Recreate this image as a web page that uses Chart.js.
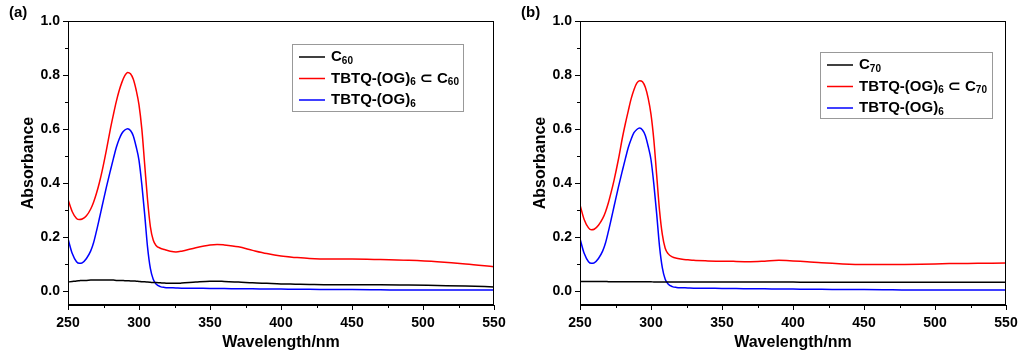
<!DOCTYPE html>
<html>
<head>
<meta charset="utf-8">
<script src="https://cdn.jsdelivr.net/npm/chart.js@4.4.1/dist/chart.umd.min.js"></script>
<style>
  html, body { margin: 0; padding: 0; background: #fff; }
  .panel { position: absolute; top: 0; width: 512px; height: 360px; }
  #wrapA { left: 0; }
  #wrapB { left: 512px; }
</style>
</head>
<body>
<div class="panel" id="wrapA"><canvas id="chartA"></canvas></div>
<div class="panel" id="wrapB"><canvas id="chartB"></canvas></div>
<script>
// wavelengths (nm) shared by every curve
const wavelength = [250, 253, 256, 258, 260, 263, 266, 268, 270, 272, 274, 277, 280, 282, 284, 286, 288, 290, 292, 294,
    296, 298, 300, 302, 304, 306, 308, 310, 312, 315, 318, 322, 326, 330, 340, 350, 355, 360, 370, 380,
    390, 400, 410, 420, 435, 450, 470, 490, 510, 530, 550];

// panel (a)
const c60 = [0.035, 0.037, 0.039, 0.040, 0.041, 0.041, 0.042, 0.042, 0.042, 0.042, 0.042, 0.042, 0.042, 0.042, 0.041, 0.041, 0.041, 0.040, 0.040, 0.039,
    0.039, 0.038, 0.037, 0.036, 0.036, 0.035, 0.034, 0.033, 0.033, 0.032, 0.031, 0.030, 0.030, 0.031, 0.035, 0.038, 0.038, 0.037, 0.035, 0.032,
    0.030, 0.028, 0.027, 0.026, 0.025, 0.025, 0.025, 0.024, 0.022, 0.020, 0.017];
const tbtqC60 = [0.340, 0.295, 0.270, 0.266, 0.268, 0.280, 0.305, 0.330, 0.362, 0.400, 0.445, 0.522, 0.605, 0.655, 0.702, 0.742, 0.774, 0.798, 0.810, 0.805,
    0.785, 0.745, 0.690, 0.600, 0.470, 0.340, 0.240, 0.190, 0.170, 0.160, 0.155, 0.149, 0.146, 0.149, 0.162, 0.172, 0.174, 0.172, 0.165, 0.152,
    0.140, 0.131, 0.126, 0.122, 0.120, 0.120, 0.118, 0.115, 0.110, 0.102, 0.091];
const tbtqA = [0.195, 0.140, 0.110, 0.104, 0.106, 0.122, 0.150, 0.180, 0.222, 0.268, 0.315, 0.385, 0.450, 0.492, 0.532, 0.563, 0.585, 0.597, 0.602, 0.595,
    0.575, 0.535, 0.485, 0.395, 0.285, 0.165, 0.085, 0.045, 0.028, 0.018, 0.015, 0.014, 0.013, 0.012, 0.012, 0.011, 0.011, 0.011, 0.010, 0.010,
    0.009, 0.009, 0.008, 0.008, 0.007, 0.007, 0.006, 0.005, 0.005, 0.005, 0.005];

// panel (b)
const c70 = [0.037, 0.037, 0.037, 0.037, 0.037, 0.037, 0.037, 0.037, 0.036, 0.036, 0.036, 0.036, 0.036, 0.036, 0.036, 0.036, 0.036, 0.036, 0.036, 0.036,
    0.036, 0.036, 0.036, 0.035, 0.035, 0.035, 0.035, 0.035, 0.035, 0.035, 0.035, 0.035, 0.035, 0.035, 0.035, 0.035, 0.035, 0.035, 0.035, 0.035,
    0.035, 0.035, 0.034, 0.034, 0.034, 0.034, 0.034, 0.034, 0.034, 0.034, 0.034];
const tbtqC70 = [0.320, 0.265, 0.235, 0.228, 0.230, 0.245, 0.270, 0.295, 0.328, 0.368, 0.412, 0.487, 0.572, 0.622, 0.668, 0.712, 0.746, 0.770, 0.779, 0.775,
    0.755, 0.715, 0.655, 0.560, 0.430, 0.300, 0.210, 0.160, 0.140, 0.128, 0.123, 0.119, 0.117, 0.115, 0.113, 0.112, 0.112, 0.111, 0.110, 0.112,
    0.115, 0.113, 0.110, 0.106, 0.102, 0.100, 0.100, 0.101, 0.103, 0.104, 0.105];
const tbtqB = [0.195, 0.140, 0.110, 0.104, 0.106, 0.122, 0.150, 0.180, 0.222, 0.268, 0.315, 0.385, 0.450, 0.492, 0.532, 0.563, 0.587, 0.599, 0.604, 0.597,
    0.577, 0.537, 0.487, 0.397, 0.287, 0.167, 0.087, 0.045, 0.028, 0.018, 0.015, 0.014, 0.013, 0.012, 0.012, 0.011, 0.011, 0.011, 0.010, 0.010,
    0.009, 0.009, 0.008, 0.008, 0.007, 0.007, 0.006, 0.005, 0.005, 0.005, 0.005];

// tick labels
const xTicks = [250, 300, 350, 400, 450, 500, 550];
const xMinor = [275, 325, 375, 425, 475, 525];
const yTicks = [0.0, 0.2, 0.4, 0.6, 0.8, 1.0];
const yMinor = [0.1, 0.3, 0.5, 0.7, 0.9];

// legend texts, [text, isSubscript]
const legendA = [
    [['C', 0], ['60', 1]],
    [['TBTQ-(OG)', 0], ['6', 1], [' \u2282 C', 0], ['60', 1]],
    [['TBTQ-(OG)', 0], ['6', 1]]
];
const legendB = [
    [['C', 0], ['70', 1]],
    [['TBTQ-(OG)', 0], ['6', 1], [' \u2282 C', 0], ['70', 1]],
    [['TBTQ-(OG)', 0], ['6', 1]]
];

const FONT = "'Liberation Sans', Arial, sans-serif";

const framePlugin = {
    id: 'frame',
    afterDraw(chart, args, opts) {
        const ctx = chart.ctx;
        const a = chart.chartArea;
        const xs = chart.scales.x, ys = chart.scales.y;
        ctx.save();
        ctx.strokeStyle = '#000';
        ctx.lineWidth = 1;
        ctx.strokeRect(a.left + 0.5, a.top + 0.5, a.right - a.left - 1, a.bottom - a.top - 1);
        // minor ticks
        ctx.beginPath();
        xMinor.forEach(v => {
            const px = Math.round(xs.getPixelForValue(v)) + 0.5;
            ctx.moveTo(px, a.bottom);
            ctx.lineTo(px, a.bottom + 3);
        });
        yMinor.forEach(v => {
            const py = Math.round(ys.getPixelForValue(v)) + 0.5;
            ctx.moveTo(a.left, py);
            ctx.lineTo(a.left - 3, py);
        });
        ctx.stroke();

        // panel letter
        ctx.fillStyle = '#000';
        ctx.font = 'bold 15px ' + FONT;
        ctx.textBaseline = 'middle';
        ctx.fillText(opts.letter, 9, 13);

        // legend box
        const b = opts.box;
        ctx.strokeStyle = '#999';
        ctx.strokeRect(b.x + 0.5, b.y + 0.5, b.w, b.h);
        chart.data.datasets.forEach((ds, i) => {
            const y = b.y + 13 + i * 21.5;
            ctx.strokeStyle = ds.borderColor;
            ctx.lineWidth = 1.5;
            ctx.beginPath();
            ctx.moveTo(b.x + 7, y);
            ctx.lineTo(b.x + 33, y);
            ctx.stroke();
            let tx = b.x + 39;
            opts.labels[i].forEach(([txt, sub]) => {
                ctx.font = sub ? 'bold 10px ' + FONT : 'bold 15px ' + FONT;
                ctx.fillText(txt, tx, sub ? y + 4 : y);
                tx += ctx.measureText(txt).width;
            });
        });
        ctx.restore();
    }
};

function makePanel(id, series, names, letter, box, labels) {
    const colors = ['#000000', '#ff0000', '#0000ff'];
    new Chart(document.getElementById(id), {
        type: 'line',
        data: {
            datasets: series.map((s, i) => ({
                label: names[i],
                data: wavelength.map((w, j) => ({ x: w, y: s[j] })),
                borderColor: colors[i],
                borderWidth: 1.5,
                pointRadius: 0,
                cubicInterpolationMode: 'monotone',
                fill: false
            }))
        },
        options: {
            responsive: true,
            maintainAspectRatio: false,
            animation: false,
            layout: { padding: { left: 0, top: 21, right: 18, bottom: 0 } },
            plugins: {
                legend: { display: false },
                tooltip: { enabled: false },
                frame: { letter: letter, box: box, labels: labels }
            },
            scales: {
                x: {
                    type: 'linear',
                    min: 250,
                    max: 550,
                    afterBuildTicks: s => { s.ticks = xTicks.map(v => ({ value: v })); },
                    afterFit: s => { s.height = 55; },
                    grid: { drawOnChartArea: false, tickLength: 5, color: '#000' },
                    border: { color: '#000' },
                    ticks: { color: '#000', font: { family: FONT, size: 14, weight: 'bold' }, padding: 5, maxRotation: 0 },
                    title: { display: true, text: 'Wavelength/nm', color: '#000', font: { family: FONT, size: 16, weight: 'bold' }, padding: { top: 0, bottom: 8 } }
                },
                y: {
                    min: -0.05,
                    max: 1.0,
                    afterBuildTicks: s => { s.ticks = yTicks.map(v => ({ value: v })); },
                    afterFit: s => { s.width = 68; },
                    grid: { drawOnChartArea: false, tickLength: 5, color: '#000' },
                    border: { color: '#000' },
                    ticks: { color: '#000', font: { family: FONT, size: 14, weight: 'bold' }, padding: 3, callback: v => v.toFixed(1) },
                    title: { display: true, text: 'Absorbance', color: '#000', font: { family: FONT, size: 16, weight: 'bold' }, padding: { top: 19, bottom: 4 } }
                }
            }
        },
        plugins: [framePlugin]
    });
}

makePanel('chartA', [c60, tbtqC60, tbtqA], ['C60', 'TBTQ-(OG)6 \u2282 C60', 'TBTQ-(OG)6'], '(a)',
    { x: 292, y: 44, w: 171, h: 67 }, legendA);
makePanel('chartB', [c70, tbtqC70, tbtqB], ['C70', 'TBTQ-(OG)6 \u2282 C70', 'TBTQ-(OG)6'], '(b)',
    { x: 308, y: 52, w: 172, h: 66 }, legendB);
</script>
</body>
</html>
